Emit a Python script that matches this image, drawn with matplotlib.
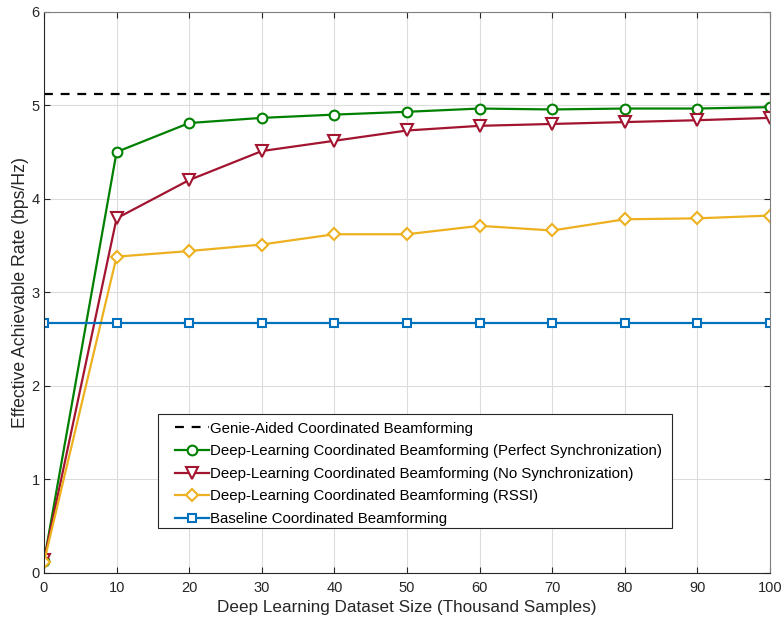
import matplotlib
matplotlib.use("Agg")
import matplotlib.pyplot as plt
from matplotlib.patches import Rectangle

plt.rcParams['font.family'] = ['Liberation Sans', 'DejaVu Sans']

dataset_size = [0, 10, 20, 30, 40, 50, 60, 70, 80, 90, 100]
genie = [5.125] * 11
dl_perfect = [0.12, 4.50, 4.81, 4.865, 4.90, 4.93, 4.965, 4.955, 4.965, 4.965, 4.98]
dl_nosync = [0.13, 3.79, 4.20, 4.51, 4.62, 4.73, 4.78, 4.80, 4.82, 4.84, 4.865]
dl_rssi = [0.11, 3.38, 3.44, 3.51, 3.62, 3.62, 3.71, 3.66, 3.78, 3.79, 3.82]
baseline = [2.675] * 11

labels = [
    "Genie-Aided Coordinated Beamforming",
    "Deep-Learning Coordinated Beamforming (Perfect Synchronization)",
    "Deep-Learning Coordinated Beamforming (No Synchronization)",
    "Deep-Learning Coordinated Beamforming (RSSI)",
    "Baseline Coordinated Beamforming",
]

fig = plt.figure(figsize=(7.81, 6.21), dpi=100)
ax = fig.add_axes([0.0563, 0.078, 0.9297, 0.903])

lw = 1.6
ms = 7
mew = 1.5
ax.plot(dataset_size, genie, '--', color='black', lw=lw, label=labels[0], dashes=(4, 3.5))
ax.plot(dataset_size, dl_perfect, '-o', color='#008000', lw=lw, ms=ms, mew=mew,
        mfc='white', label=labels[1])
ax.plot(dataset_size, dl_nosync, '-v', color='#A2142F', lw=lw, ms=ms + 1, mew=mew,
        mfc='white', label=labels[2])
ax.plot(dataset_size, dl_rssi, '-D', color='#EDB120', lw=lw, ms=ms - 0.5, mew=mew,
        mfc='white', label=labels[3])
ax.plot(dataset_size, baseline, '-s', color='#0072BD', lw=lw, ms=ms - 1, mew=mew,
        mfc='white', label=labels[4])

ax.set_xlim(0, 100)
ax.set_ylim(0, 6)
ax.set_xticks(range(0, 101, 10))
ax.set_yticks(range(0, 7))
ax.grid(True, color='#dcdcdc', lw=0.8)
ax.set_axisbelow(True)
ax.tick_params(direction='in', top=True, right=True, colors='#262626',
               labelsize=10.5, length=4, width=0.8)
ax.tick_params(axis='x', pad=6)
ax.tick_params(axis='y', pad=3)
for s in ax.spines.values():
    s.set_color('#262626')
    s.set_linewidth(0.8)
for s in ('right', 'top'):
    ax.spines[s].set_color('#808080')

ax.set_xlabel("Deep Learning Dataset Size (Thousand Samples)", fontsize=12.3,
              color='#262626', labelpad=4)
ax.set_ylabel("Effective Achievable Rate (bps/Hz)", fontsize=12.7,
              color='#262626', labelpad=2)

# legend entries without their own frame; the box is drawn separately
leg = ax.legend(loc='upper left', bbox_to_anchor=(0.1804, 0.269), fontsize=10.8,
                frameon=False, handlelength=2.3, handletextpad=0.05, borderpad=0,
                labelspacing=0.57, borderaxespad=0)
leg.set_zorder(6)
ax.add_patch(Rectangle((0.1574, 0.0799), 0.7072, 0.2029, transform=ax.transAxes,
                       facecolor='white', edgecolor='#262626', lw=0.8, zorder=5))

fig.savefig("out.png", dpi=100)
